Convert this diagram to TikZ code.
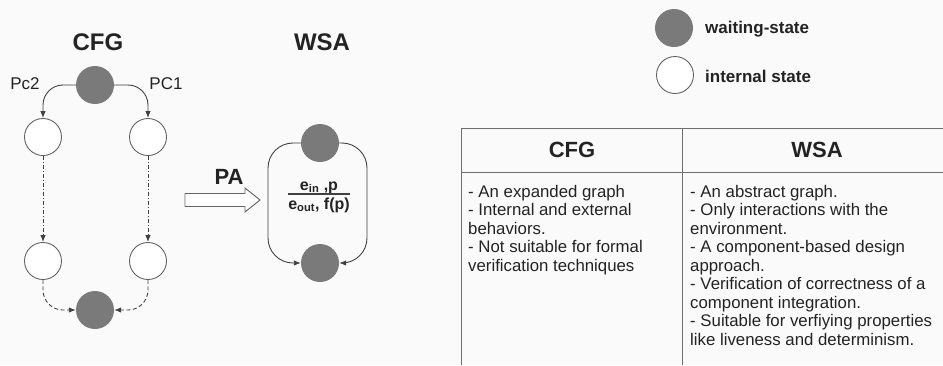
\documentclass[tikz,border=0pt]{standalone}
\usepackage{fontspec}
\setmainfont{Liberation Sans}
\usetikzlibrary{arrows.meta}
\definecolor{bg}{RGB}{250,250,250}
\definecolor{wfill}{RGB}{122,122,122}
\definecolor{cline}{RGB}{100,100,100}
\definecolor{eline}{RGB}{65,65,65}
\definecolor{tline}{RGB}{110,110,110}
\definecolor{txt}{RGB}{35,35,35}
\begin{document}
\begin{tikzpicture}[x=1pt,y=-1pt,
  waitst/.style={circle, fill=wfill, draw=none, minimum size=38pt, inner sep=0},
  intst/.style={circle, fill=white, draw=cline, line width=0.9pt, minimum size=37pt, inner sep=0},
  flow/.style={draw=eline, line width=0.9pt, -{Latex[length=7pt,width=5.5pt]}},
  dflow/.style={flow, dash pattern=on 4pt off 2pt on 1pt off 2pt},
  dcurve/.style={flow, dash pattern=on 4pt off 2.5pt},
  titletxt/.style={font=\fontsize{24}{28}\selectfont\bfseries, text=txt, inner sep=0},
  headtxt/.style={font=\fontsize{22}{26}\selectfont\bfseries, text=txt, inner sep=0},
  body/.style={font=\fontsize{16.8}{18.5}\selectfont, text=txt, inner sep=0, anchor=base west},
  lbl/.style={font=\fontsize{17}{20}\selectfont, text=txt, inner sep=0},
  legtxt/.style={font=\fontsize{17}{20}\selectfont\bfseries, text=txt, inner sep=0, anchor=west},
  fractxt/.style={font=\fontsize{16}{19}\selectfont\bfseries, text=txt, inner sep=0},
  tablerule/.style={draw=tline, line width=1pt}
]
\fill[bg] (0,0) rectangle (943,365);
\useasboundingbox (0,0) rectangle (943,365);

% ---- CFG graph ----
\node[titletxt] (cfgtitle) at (98,42) {CFG};
\node[waitst] (ctop) at (95,85) {};
\node[intst] (l1) at (43,137) {};
\node[intst] (r1) at (148,137) {};
\node[intst] (l2) at (43,261) {};
\node[intst] (r2) at (148,261) {};
\node[waitst] (cbot) at (95,310) {};
\node[lbl] (pc2) at (25,84) {Pc2};
\node[lbl] (pc1) at (166,84) {PC1};

\draw[flow, rounded corners=20pt] (ctop.west) -| (l1.north);
\draw[flow, rounded corners=20pt] (ctop.east) -| (r1.north);
\draw[dflow] (l1.south) -- (l2.north);
\draw[dflow] (r1.south) -- (r2.north);
\draw[dcurve, rounded corners=20pt] (l2.south) |- (cbot.west);
\draw[dcurve, rounded corners=20pt] (r2.south) |- (cbot.east);

% ---- PA arrow ----
\node[headtxt] (patxt) at (229,177) {PA};
\draw[draw=cline, fill=white, line width=0.9pt]
  (185,193.5) -- (245,193.5) -- (245,188) -- (260,200) -- (245,212) -- (245,206.5) -- (185,206.5) -- cycle;

% ---- WSA graph ----
\node[titletxt] (wsatitle) at (322,42) {WSA};
\node[waitst] (wtop) at (320,143) {};
\node[waitst] (wbot) at (320,263) {};
\coordinate (wl) at (268,203);
\coordinate (wr) at (367,203);
\draw[flow, rounded corners=25pt] (wtop.west) -| (wl) |- (wbot.west);
\draw[flow, rounded corners=25pt] (wtop.east) -| (wr) |- (wbot.east);
\node[fractxt, anchor=base] (fnum) at (319,190) {e\textsubscript{in} ,p};
\node[fractxt, anchor=base] (fden) at (319,209) {e\textsubscript{out}, f(p)};
\draw[draw=eline, line width=1.3pt] (288,194) -- (350,194);

% ---- legend ----
\node[waitst] (legw) at (674,28) {};
\node[intst] (legi) at (675,75) {};
\node[legtxt] (legwt) at (705,29) {waiting-state};
\node[legtxt] (legit) at (705,76) {internal state};

% ---- table ----
\draw[tablerule] (461,365) -- (461,128) -- (943,128);
\draw[tablerule] (461,172) -- (943,172);
\draw[tablerule] (682,128) -- (682,365);
\node[headtxt] (hcfg) at (572,150) {CFG};
\node[headtxt] (hwsa) at (817,150) {WSA};
\node[body] (cfgbody) at (468,197) {\begin{tabular}[t]{@{}l@{}}
- An expanded graph\\
- Internal and external\\
behaviors.\\
- Not suitable for formal\\
verification techniques
\end{tabular}};
\node[body] (wsabody) at (690,197) {\begin{tabular}[t]{@{}l@{}}
- An abstract graph.\\
- Only interactions with the\\
environment.\\
- A component-based design\\
approach.\\
- Verification of correctness of a\\
component integration.\\
- Suitable for verfiying properties\\
like liveness and determinism.
\end{tabular}};
\end{tikzpicture}
\end{document}
